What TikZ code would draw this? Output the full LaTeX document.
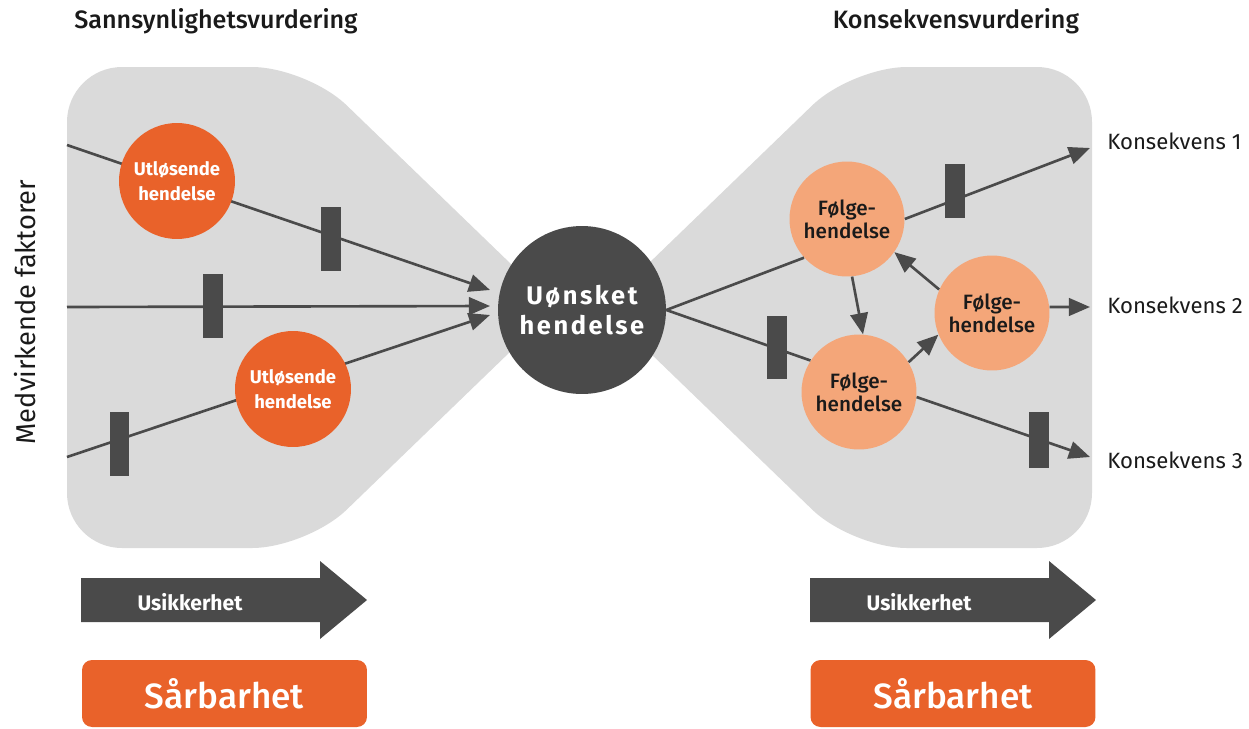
\documentclass[tikz,border=0pt]{standalone}
\usepackage{fontspec}
\setmainfont{Fira Sans}
\newfontfamily\medfont{Fira Sans Medium}
\usetikzlibrary{arrows.meta}
\definecolor{orng}{HTML}{E9622A}
\definecolor{lorng}{HTML}{F4A679}
\definecolor{bggrey}{HTML}{DADADA}
\definecolor{dgrey}{HTML}{4A4A4A}
\definecolor{txt}{HTML}{1A1A1A}
\begin{document}
\begin{tikzpicture}[x=0.02cm,y=-0.02cm,
  conn/.style={draw=dgrey,line width=1.5pt},
  arr/.style={conn,-{Triangle[length=12pt,width=10pt]}},
  bar/.style={fill=dgrey,minimum width=0.4cm,inner sep=0pt},
  utl/.style={circle,fill=orng,minimum size=2.32cm,inner sep=0pt,text=white,align=center,
    font=\fontsize{10.5}{14}\selectfont\bfseries},
  folge/.style={circle,fill=lorng,minimum size=2.3cm,inner sep=0pt,text=txt,align=center,
    font=\medfont\fontsize{11.8}{13}\selectfont},
  kons/.style={anchor=base west,inner sep=0pt,text=txt,font=\fontsize{12.6}{14}\selectfont},
  title/.style={anchor=base,text=txt,font=\medfont\fontsize{14.3}{16}\selectfont},
  usik/.style={anchor=base,text=white,font=\fontsize{12}{14}\selectfont\bfseries},
  sarb/.style={rectangle,rounded corners=0.2cm,fill=orng,minimum width=5.7cm,minimum height=1.34cm,
    text=white,font=\medfont\fontsize{20}{24}\selectfont}
]
\useasboundingbox (0,0) rectangle (1249,728);
% grey bow-tie
\fill[bggrey,rounded corners=1.1cm] (67,67) -- (307,67) -- (556,307.5) -- (307,548) -- (67,548) -- cycle;
\fill[bggrey,rounded corners=1.1cm] (1092,67) -- (852,67) -- (603,307.5) -- (852,548) -- (1092,548) -- cycle;
% left lines
\coordinate (a1) at (67,145); \coordinate (b1) at (490,290);
\coordinate (a2) at (67,307); \coordinate (b2) at (490,306);
\coordinate (a3) at (67,457); \coordinate (b3) at (490,315);
\draw[arr] (a1) -- (b1);
\draw[arr] (a2) -- (b2);
\draw[arr] (a3) -- (b3);
\node[bar,minimum height=1.28cm] (bar1) at (331,239) {};
\node[bar,minimum height=1.28cm] (bar2) at (213,306) {};
\node[bar,minimum height=1.28cm] (bar3) at (119.5,444) {};
% circles
\node[utl] (u1) at (177,181) {Utløsende\\hendelse};
\node[utl] (u2) at (293,389) {Utløsende\\hendelse};
\node[circle,fill=dgrey,minimum size=3.36cm,inner sep=0pt,text=white,align=center,
  font=\fontsize{14.5}{17}\selectfont\bfseries\addfontfeature{LetterSpace=10}] (U) at (582,310) {Uønsket\\hendelse};
\node[folge] (fa) at (847,219) {Følge-\\hendelse};
\node[folge] (fb) at (859,392) {Følge-\\hendelse};
\node[folge] (fc) at (992,313) {Følge-\\hendelse};
% right lines
\coordinate (k1) at (1090,148);
\coordinate (k2) at (1090,307);
\coordinate (k3) at (1090,457);
\draw[conn] (U.east) -- (fa.222);
\draw[conn] (U.east) -- (fb.147);
\draw[arr] (fa.0) -- (k1);
\draw[arr] (fc.6) -- (k2);
\draw[arr] (fb.-5) -- (k3);
\draw[arr] (fc.156) -- (fa.-35);
\draw[arr] (fa.-85) -- (fb.86);
\draw[arr] (fb.31) -- (fc.202);
\node[bar,minimum height=1.26cm] (bar4) at (777,347) {};
\node[bar,minimum height=1.08cm] (bar5) at (955,191) {};
\node[bar,minimum height=1.12cm] (bar6) at (1039,440) {};
% labels
\node[kons] (K1) at (1107,149) {Konsekvens 1};
\node[kons] (K2) at (1107,313) {Konsekvens 2};
\node[kons] (K3) at (1107,468) {Konsekvens 3};
\node[title] (t1) at (216,28) {Sannsynlighetsvurdering};
\node[title] (t2) at (956,28) {Konsekvensvurdering};
\node[anchor=base,rotate=90,text=txt,font=\fontsize{15.5}{17}\selectfont] (med) at (35,312) {Medvirkende faktorer};
% bottom arrows
\fill[dgrey] (81,578) -- (320,578) -- (320,561) -- (367,600) -- (320,639) -- (320,622) -- (81,622) -- cycle;
\fill[dgrey] (810,578) -- (1049,578) -- (1049,561) -- (1096,600) -- (1049,639) -- (1049,622) -- (810,622) -- cycle;
\node[usik] (us1) at (190,610) {Usikkerhet};
\node[usik] (us2) at (919,610) {Usikkerhet};
\node[sarb] (s1) at (224.5,693.5) {Sårbarhet};
\node[sarb] (s2) at (953,693.5) {Sårbarhet};
\end{tikzpicture}
\end{document}
